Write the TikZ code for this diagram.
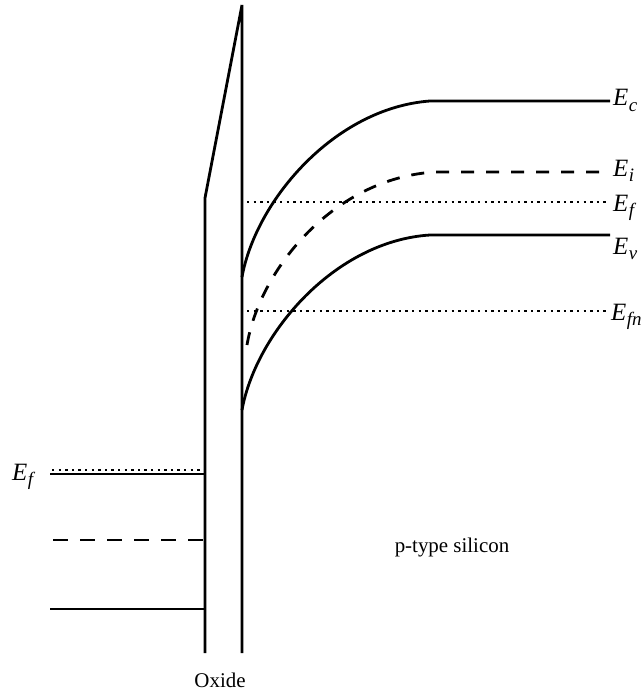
\documentclass[tikz,border=0pt]{standalone}
\usepackage{fontspec}
\setmainfont{Liberation Serif}
\newcommand{\elab}[1]{\textit{E}\kern0.5bp\raisebox{-0.45ex}{\fontsize{19}{19}\selectfont\textit{#1}}}
\begin{document}
\begin{tikzpicture}[x=1bp,y=-1bp,
  band/.style={line width=2.8bp},
  dotline/.style={line width=2.4bp,dash pattern=on 2.4bp off 4.2bp},
  dashline/.style={line width=2.8bp,dash pattern=on 13bp off 12bp},
  elabel/.style={anchor=base west,inner sep=0pt,font=\fontsize{25}{25}\selectfont},
  txt/.style={anchor=base,inner sep=0pt,font=\fontsize{21}{21}\selectfont}]
\useasboundingbox (0,0) rectangle (644,696);
% oxide
\coordinate (oxBL) at (205,653);
\coordinate (oxKnee) at (205,198);
\coordinate (oxTop) at (242,5);
\coordinate (oxBR) at (242,653);
\draw[band,line join=miter] (oxBL) -- (oxKnee) -- (oxTop) -- (oxBR);
% silicon bands
\coordinate (ec0) at (242,277);
\coordinate (ec1) at (430,101);
\coordinate (ec2) at (610,101);
\draw[band] (ec0) .. controls (256,200) and (335,108) .. (ec1) -- (ec2);
\coordinate (ev0) at (242,410);
\coordinate (ev1) at (430,235);
\coordinate (ev2) at (610,235);
\draw[band] (ev0) .. controls (256,333) and (335,241) .. (ev1) -- (ev2);
\coordinate (ei0) at (247,345);
\coordinate (ei1) at (435,172);
\coordinate (ei2) at (610,172);
\draw[dashline] (ei0) .. controls (260,268) and (335,178) .. (ei1) -- (ei2);
\coordinate (ef0) at (247,202);
\coordinate (ef1) at (610,202);
\draw[dotline] (ef0) -- (ef1);
\coordinate (efn0) at (247,311);
\coordinate (efn1) at (610,311);
\draw[dotline] (efn0) -- (efn1);
% labels right
\node[elabel] (lEc) at (613,106) {\elab{c}};
\node[elabel] (lEi) at (613,176) {\elab{i}};
\node[elabel] (lEf) at (613,211) {\elab{f}};
\node[elabel] (lEv) at (613,254) {\elab{v}};
\node[elabel] (lEfn) at (611,320) {\elab{fn}};
% metal
\coordinate (mf0) at (50,474);
\coordinate (mf1) at (205,474);
\draw[band] (mf0) -- (mf1);
\coordinate (md0) at (52,470);
\coordinate (md1) at (205,470);
\draw[dotline] (md0) -- (md1);
\coordinate (mi0) at (53,540);
\coordinate (mi1) at (205,540);
\draw[line width=2.8bp,dash pattern=on 15bp off 12bp] (mi0) -- (mi1);
\coordinate (mv0) at (50,609);
\coordinate (mv1) at (205,609);
\draw[band] (mv0) -- (mv1);
\node[elabel] (lEfm) at (12,480) {\elab{f}};
% texts
\node[txt] (oxide) at (220,687) {Oxide};
\node[txt] (ptype) at (452,552) {p-type silicon};
\end{tikzpicture}
\end{document}
